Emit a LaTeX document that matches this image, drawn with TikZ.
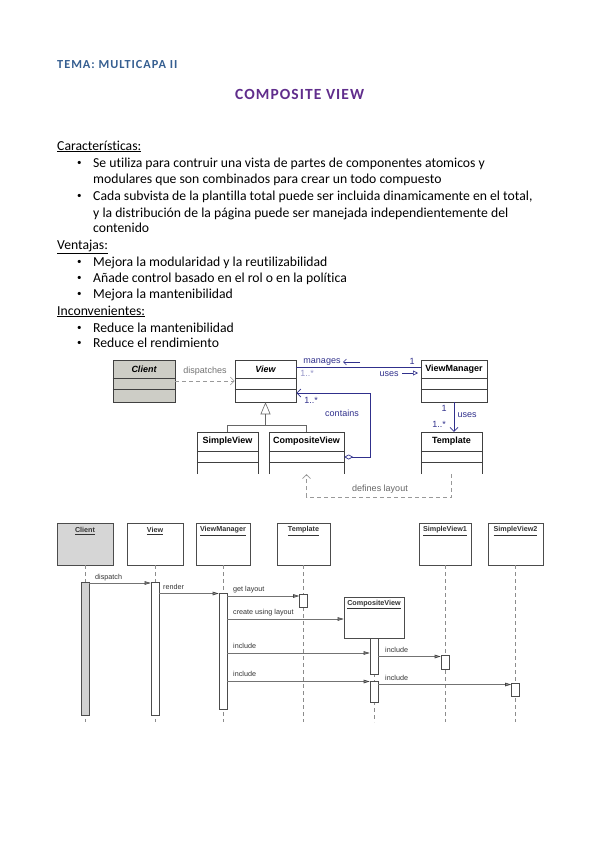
\documentclass[tikz,border=0pt]{standalone}
\usepackage{fontspec}
\setmainfont{Carlito}[Ligatures=NoCommon]
\newfontfamily\umlfont{Liberation Sans}
\newfontfamily\temafont{Carlito}[LetterSpace=8]
\newfontfamily\titfont{Carlito}[LetterSpace=7]
\usetikzlibrary{arrows.meta}
\definecolor{temablue}{RGB}{54,95,145}
\definecolor{titpurple}{RGB}{96,45,140}
\definecolor{umlblue}{RGB}{48,48,140}
\definecolor{umlfaint}{RGB}{150,150,200}
\definecolor{clientgray}{RGB}{205,205,198}
\definecolor{seqgray}{RGB}{214,214,214}
\tikzset{
 txt/.style={anchor=base west, inner sep=0pt, font=\fontsize{13.7}{16}\selectfont},
 bul/.style={anchor=base west, inner sep=0pt, font=\fontsize{9}{10}\selectfont},
 cls/.style={draw=black!75, line width=0.6pt, minimum height=42pt, inner sep=0pt},
 clsopen/.style={minimum height=42pt, inner sep=0pt},
 clsname/.style={font=\umlfont\fontsize{9}{10}\selectfont\bfseries, inner sep=0pt},
 umllbl/.style={font=\umlfont\fontsize{9}{10}\selectfont, text=umlblue, inner sep=0pt},
 depend/.style={draw=black!40, dash pattern=on 4pt off 3pt, line width=0.6pt, -{Straight Barb[length=4pt,width=8pt]}},
 assoc/.style={draw=umlblue, line width=0.7pt},
 genline/.style={draw=black!60, line width=0.6pt},
 head/.style={draw=black!70, line width=0.6pt, inner sep=0pt, minimum height=42pt},
 headname/.style={font=\umlfont\fontsize{7.2}{8}\selectfont\bfseries, inner sep=0pt, text=black!80},
 bar/.style={draw=black!70, fill=white, line width=0.6pt, minimum width=8pt, inner sep=0pt},
 life/.style={draw=black!45, dash pattern=on 4pt off 3pt, line width=0.6pt},
 msg/.style={draw=black!55, line width=0.6pt, -{Triangle[length=6pt,width=3.5pt,fill=black!45,color=black!75]}},
 msglbl/.style={font=\umlfont\fontsize{7.2}{8}\selectfont, anchor=base west, inner sep=0pt, text=black!80},
}
\begin{document}
\begin{tikzpicture}[x=1pt,y=-1pt]
\fill[white] (0,0) rectangle (599,848);
\useasboundingbox (0,0) rectangle (599,848);

% ---------- titles ----------
\node[anchor=base west, inner sep=0pt, text=temablue, font=\temafont\fontsize{12.3}{14}\selectfont\bfseries] (tema) at (57,69) {TEMA: MULTICAPA II};
\node[anchor=base west, inner sep=0pt, text=titpurple, font=\titfont\fontsize{15.5}{18}\selectfont\bfseries] (titulo) at (235,99.5) {COMPOSITE VIEW};

% ---------- text ----------
\node[txt] (h1) at (57,150) {\underline{Características:}};
\node[bul] (b1) at (77,165.5) {•};
\node[txt] (l1) at (93,167) {Se utiliza para contruir una vista de partes de componentes atomicos y};
\node[txt] (l2) at (93,183) {modulares que son combinados para crear un todo compuesto};
\node[bul] (b2) at (77,198.5) {•};
\node[txt] (l3) at (93,200) {Cada subvista de la plantilla total puede ser incluida dinamicamente en el total,};
\node[txt] (l4) at (93,217) {y la distribución de la página puede ser manejada independientemente del};
\node[txt] (l5) at (93,232) {contenido};
\node[txt] (h2) at (57,249) {\underline{Ventajas:}};
\node[bul] (b3) at (77,264.5) {•};
\node[txt] (l6) at (93,266) {Mejora la modularidad y la reutilizabilidad};
\node[bul] (b4) at (77,280.5) {•};
\node[txt] (l7) at (93,282) {Añade control basado en el rol o en la política};
\node[bul] (b5) at (77,296.5) {•};
\node[txt] (l8) at (93,298) {Mejora la mantenibilidad};
\node[txt] (h3) at (57,315) {\underline{Inconvenientes:}};
\node[bul] (b6) at (77,330.5) {•};
\node[txt] (l9) at (93,332) {Reduce la mantenibilidad};
\node[bul] (b7) at (77,345.5) {•};
\node[txt] (l10) at (93,347) {Reduce el rendimiento};

% ---------- class diagram ----------
\node[cls, fill=clientgray, minimum width=62pt] (client) at (144,381) {};
\node[cls, minimum width=61pt] (view) at (265.5,381) {};
\node[cls, minimum width=66pt] (vm) at (454,381) {};
\foreach \n in {client,view,vm}{
  \draw[black!75, line width=0.6pt] ([yshift=3pt]\n.west) -- ([yshift=3pt]\n.east);
  \draw[black!75, line width=0.6pt] ([yshift=-8pt]\n.west) -- ([yshift=-8pt]\n.east);
}
\node[clsname] (clientn) at ([yshift=12pt]client.center) {\itshape Client};
\node[clsname] (viewn) at ([yshift=12pt]view.center) {\itshape View};
\node[clsname] (vmn) at ([yshift=12pt]vm.center) {ViewManager};

\node[clsopen, minimum width=61pt] (sv) at (227.5,453) {};
\node[clsopen, minimum width=75pt] (cv) at (306.5,453) {};
\node[clsopen, minimum width=61pt] (tpl) at (451.5,453) {};
\foreach \n in {sv,cv,tpl}{
  \draw[black!75, line width=0.6pt] (\n.south west) -- (\n.north west) -- (\n.north east) -- (\n.south east);
  \draw[black!75, line width=0.6pt] ([yshift=2pt]\n.west) -- ([yshift=2pt]\n.east);
  \draw[black!75, line width=0.6pt] ([yshift=-9pt]\n.west) -- ([yshift=-9pt]\n.east);
}
\node[clsname] (svn) at ([yshift=11.5pt]sv.center) {SimpleView};
\node[clsname] (cvn) at ([yshift=11.5pt]cv.center) {CompositeView};
\node[clsname] (tpln) at ([yshift=11.5pt]tpl.center) {Template};

% dispatches
\draw[depend] (client.east) -- (view.west);
\node[font=\umlfont\fontsize{9}{10}\selectfont, text=black!55, inner sep=0pt] (dlbl) at (205,371) {dispatches};

% manages / uses
\draw[assoc] ([yshift=14pt]view.east) -- ([yshift=14pt]vm.west);
\node[umllbl] (mlbl) at (322,362) {manages};
\coordinate (ma1) at (360,362);
\coordinate (ma2) at (343,362);
\draw[umlblue, line width=0.6pt, -{Straight Barb[length=3pt,width=6pt]}] (ma1) -- (ma2);
\node[umllbl] (one1) at (412,361) {1};
\node[umllbl, text=umlfaint] (many1) at (307,373) {1..*};
\node[umllbl] (ulbl) at (389,374) {uses};
\coordinate (ua1) at (402,373);
\coordinate (ua2) at (418,373);
\draw[umlblue, line width=0.6pt, -{Triangle[open,length=5pt,width=5pt]}] (ua1) -- (ua2);

% contains
\draw[assoc, {Diamond[open,length=9pt,width=5pt]}-{Straight Barb[length=4pt,width=8pt]}] ([yshift=-4pt]cv.east) -- ++(26,0) |- ([yshift=-12pt]view.east);
\node[umllbl] (many2) at (311,400) {1..*};
\node[umllbl] (clbl) at (342,413) {contains};

% generalization
\coordinate (gj) at (265.5,425);
\draw[genline] (sv.north) |- (cv.north |- gj) -- (cv.north);
\draw[genline, -{Triangle[open,length=12pt,width=10pt]}] (gj) -- (view.south);

% uses VM -> Template
\draw[assoc, -{Straight Barb[length=4pt,width=8pt]}] (vm.south) -- (vm.south |- tpl.north);
\node[umllbl] (one2) at (444,408) {1};
\node[umllbl] (many3) at (439,424) {1..*};
\node[umllbl] (u2lbl) at (467,415) {uses};

% defines layout
\draw[depend] (tpl.south) -- ++(0,23) -| (cv.south);
\node[font=\umlfont\fontsize{9}{10}\selectfont, text=black!60, inner sep=0pt] (dllbl) at (380,489) {defines layout};

% ---------- sequence diagram ----------
\node[head, fill=seqgray, minimum width=56pt] (sclient) at (85,544) {};
\node[head, minimum width=56pt] (sview) at (155,544) {};
\node[head, minimum width=54pt] (svm) at (223,544) {};
\node[head, minimum width=53pt] (stpl) at (303.5,544) {};
\node[head, minimum width=52pt] (ssv1) at (445,544) {};
\node[head, minimum width=55pt] (ssv2) at (515.5,544) {};
\node[headname] (n1) at ([yshift=13pt]sclient.center) {\underline{Client}};
\node[headname] (n2) at ([yshift=13pt]sview.center) {\underline{View}};
\node[headname] (n3) at ([yshift=13pt]svm.center) {\underline{ViewManager}};
\node[headname] (n4) at ([yshift=13pt]stpl.center) {\underline{Template}};
\node[headname] (n5) at ([yshift=13pt]ssv1.center) {\underline{SimpleView1}};
\node[headname] (n6) at ([yshift=13pt]ssv2.center) {\underline{SimpleView2}};
\foreach \n in {sclient,sview,svm,stpl,ssv1,ssv2}{
  \draw[life] (\n.south) -- ++(0,157);
}
\node[head, fill=white, minimum width=60pt, minimum height=41pt] (scv) at (374,617.5) {};
\node[headname] (n7) at ([yshift=13pt]scv.center) {\underline{CompositeView}};
\draw[life] (scv.south) -- ++(0,84);

\node[bar, fill=black!18, minimum height=133pt] (bclient) at (85,648.5) {};
\node[bar, minimum height=133pt] (bview) at (155,648.5) {};
\node[bar, minimum height=116pt] (bvm) at (223,651) {};
\node[bar, minimum height=13pt] (btpl) at (303.5,600.5) {};
\node[bar, minimum height=36pt] (bcv1) at (374,656) {};
\node[bar, minimum height=21pt] (bcv2) at (374,691.5) {};
\node[bar, minimum height=14pt] (bsv1) at (445,662) {};
\node[bar, minimum height=13pt] (bsv2) at (515.5,689.5) {};

\coordinate (r1) at (0,583);
\coordinate (r2) at (0,593.5);
\coordinate (r3) at (0,596);
\coordinate (r4) at (0,619);
\coordinate (r5) at (0,653);
\coordinate (r6) at (0,656.5);
\coordinate (r7) at (0,681.5);
\coordinate (r8) at (0,684.5);
\draw[msg] (bclient.east |- r1) -- (bview.west |- r1);
\draw[msg] (bview.east |- r2) -- (bvm.west |- r2);
\draw[msg] (bvm.east |- r3) -- (btpl.west |- r3);
\draw[msg] (bvm.east |- r4) -- (scv.west |- r4);
\draw[msg] (bvm.east |- r5) -- (bcv1.west |- r5);
\draw[msg] (bcv1.east |- r6) -- (bsv1.west |- r6);
\draw[msg] (bvm.east |- r7) -- (bcv2.west |- r7);
\draw[msg] (bcv2.east |- r8) -- (bsv2.west |- r8);
\node[msglbl] (m1) at (95,579) {dispatch};
\node[msglbl] (m2) at (163,589) {render};
\node[msglbl] (m3) at (233,591) {get layout};
\node[msglbl] (m4) at (233,614) {create using layout};
\node[msglbl] (m5) at (233,648) {include};
\node[msglbl] (m6) at (385,652) {include};
\node[msglbl] (m7) at (233,676) {include};
\node[msglbl] (m8) at (385,680) {include};
\end{tikzpicture}
\end{document}
